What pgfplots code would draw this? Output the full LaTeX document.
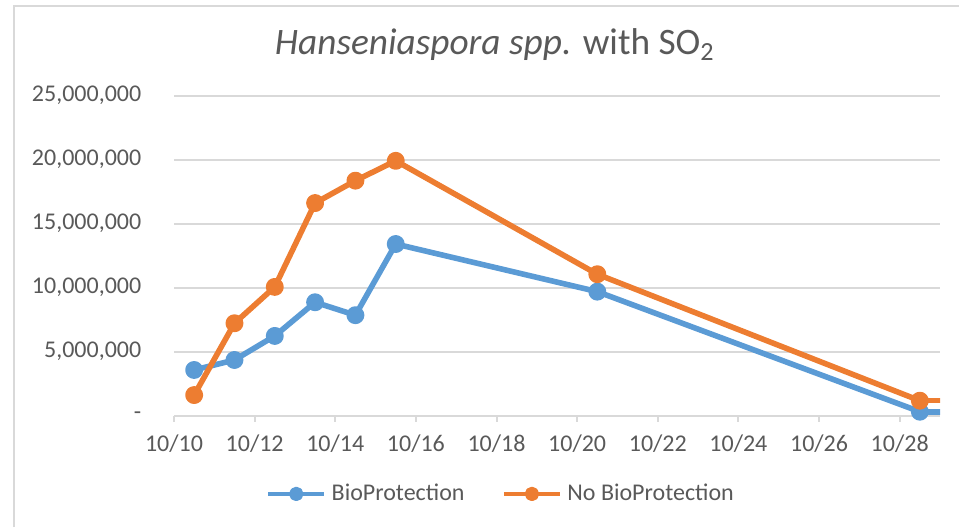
\documentclass[border=0pt]{standalone}
\usepackage{fontspec}
\setmainfont{Carlito}
\usepackage{pgfplots}
\pgfplotsset{compat=1.18}
\definecolor{cblue}{HTML}{5B9BD5}
\definecolor{corange}{HTML}{ED7D31}
\definecolor{tgray}{HTML}{595959}
\definecolor{ggray}{HTML}{D9D9D9}
\begin{document}
\begin{tikzpicture}
\path[use as bounding box] (0,0) rectangle (359.625pt,197.625pt);
\draw[ggray, line width=0.75pt] (5.25pt,0) -- (5.25pt,195.4pt) -- (359.625pt,195.4pt);
\begin{axis}[
  at={(65.25pt,41.8pt)}, anchor=south west,
  width=287.25pt, height=120pt, scale only axis,
  xmin=10, xmax=29, ymin=0, ymax=25000000,
  axis x line*=bottom, axis y line*=left,
  y axis line style={draw=none},
  x axis line style={ggray, line width=0.75pt},
  xtick={10,12,...,28},
  xticklabels={10/10,10/12,10/14,10/16,10/18,10/20,10/22,10/24,10/26,10/28},
  ytick={0,5000000,10000000,15000000,20000000,25000000},
  yticklabels={{-\hspace{2.6pt}},{5,000,000},{10,000,000},{15,000,000},{20,000,000},{25,000,000}},
  scaled ticks=false,
  ymajorgrids, grid style={ggray, line width=0.75pt},
  ytick style={draw=none},
  xtick style={ggray, line width=0.75pt},
  tick align=outside, major tick length=2.25pt,
  ticklabel style={font=\fontsize{9}{11}\selectfont, text=tgray},
  yticklabel style={xshift=-6.5pt},
  xticklabel style={yshift=-1.5pt},
  title={\textit{Hanseniaspora spp.} with SO\textsubscript{2}},
  title style={font=\fontsize{14}{17}\selectfont, text=tgray, at={(0.419,1.108)}, anchor=center},
  legend style={draw=none, fill=none, legend columns=2, font=\fontsize{9}{11}\selectfont, text=tgray,
    /tikz/every even column/.append style={column sep=12pt},
    at={(0.429,-0.245)}, anchor=center},
  legend cell align=left,
  legend image code/.code={\draw[mark repeat=2,mark phase=2,#1, line width=1.6pt, mark size=1.9pt] plot coordinates {(0pt,0pt) (10.5pt,0pt) (21pt,0pt)};},
  clip=true,
]
\addplot[cblue, line width=2.1pt, line join=round, mark=*, mark size=2.3pt, mark options={solid}]
  coordinates {(10.5,3560000)(11.5,4340000)(12.5,6220000)(13.5,8850000)(14.5,7840000)(15.5,13400000)(20.5,9680000)(28.5,300000)};
\addlegendentry{BioProtection}
\addplot[corange, line width=2.1pt, line join=round, mark=*, mark size=2.3pt, mark options={solid}]
  coordinates {(10.5,1600000)(11.5,7210000)(12.5,10050000)(13.5,16600000)(14.5,18350000)(15.5,19900000)(20.5,11040000)(28.5,1160000)};
\addlegendentry{No BioProtection}
\addplot[cblue, line width=2.1pt, forget plot] coordinates {(28.5,300000)(29.5,300000)};
\addplot[corange, line width=2.1pt, forget plot] coordinates {(28.5,1160000)(29.5,1160000)};
\end{axis}
\end{tikzpicture}
\end{document}
